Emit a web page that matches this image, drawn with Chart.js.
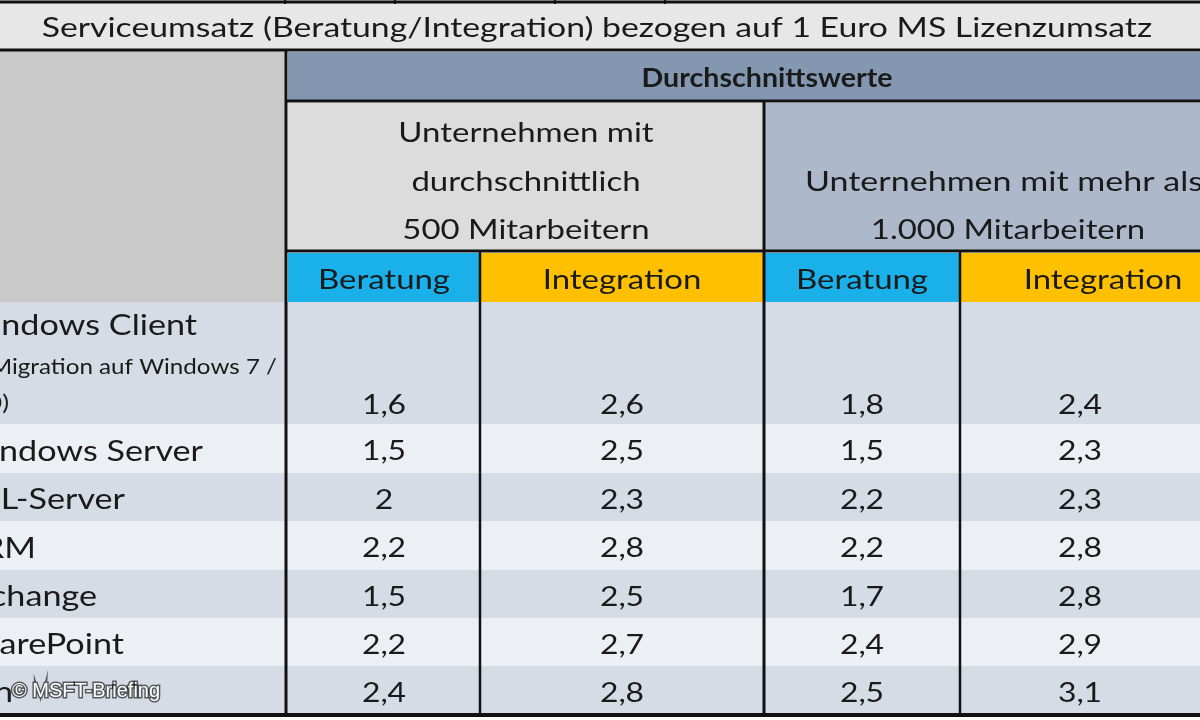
<!DOCTYPE html>
<html>
<head>
<meta charset="utf-8">
<script src="https://cdn.jsdelivr.net/npm/chart.js@4.4.0/dist/chart.umd.min.js"></script>
<style>
  body { margin: 0; background: #ffffff; overflow: hidden; }
  canvas { display: block; }
</style>
</head>
<body>
<canvas id="tbl" width="1200" height="720"></canvas>
<script>
// table content
var title = "Serviceumsatz (Beratung/Integration) bezogen auf 1 Euro MS Lizenzumsatz";
var products = ["Windows Client", "Windows Server", "SQL-Server", "CRM", "Exchange", "SharePoint", "Navision"];
var beratung500 = ["1,6", "1,5", "2", "2,2", "1,5", "2,2", "2,4"];
var integration500 = ["2,6", "2,5", "2,3", "2,8", "2,5", "2,7", "2,8"];
var beratung1000 = ["1,8", "1,5", "2,2", "2,2", "1,7", "2,4", "2,5"];
var integration1000 = ["2,4", "2,3", "2,3", "2,8", "2,8", "2,9", "3,1"];

// layout in table units (scale 0..1200 x 0..720)
var colEdges = [288, 480, 764, 960, 1200];
var rowEdges = [302, 424, 473, 521, 570, 618, 666, 714];
var labelEnds = [197, 203, 125, 36, 97, 124, 13];
var rowColors = ["#d6dce5", "#eceff3", "#d6dce5", "#eceff3", "#d6dce5", "#eceff3", "#d6dce5"];
var FONT = "Lato, 'Open Sans', sans-serif";
var STRETCH = 1.22;

var tablePlugin = {
    id: "tablePlugin",
    beforeDraw: function (chart) {
        var ctx = chart.ctx;
        var xs = chart.scales.x, ys = chart.scales.y;
        function X(v) { return xs.getPixelForValue(v); }
        function Y(v) { return ys.getPixelForValue(v); }
        function rect(x0, y0, x1, y1, col) {
            ctx.fillStyle = col;
            ctx.fillRect(X(x0), Y(y0), X(x1) - X(x0), Y(y1) - Y(y0));
        }
        function line(x0, y0, x1, y1, w) {
            ctx.strokeStyle = "#111";
            ctx.lineWidth = w;
            ctx.beginPath();
            ctx.moveTo(X(x0), Y(y0));
            ctx.lineTo(X(x1), Y(y1));
            ctx.stroke();
        }
        function text(s, x, y, size, align, weight, sx) {
            ctx.save();
            ctx.font = (weight || "normal") + " " + size + "px " + FONT;
            ctx.fillStyle = "#1a1a1a";
            ctx.textAlign = align;
            ctx.textBaseline = "middle";
            ctx.translate(X(x), Y(y));
            ctx.scale(sx || STRETCH, 1);
            ctx.fillText(s, 0, 0);
            ctx.restore();
        }

        ctx.save();
        // backgrounds
        rect(0, 0, 1200, 50, "#e7e7e7");
        rect(0, 50, 286, 302, "#c9c9c9");
        rect(288, 52, 1200, 101, "#8497b0");
        rect(288, 103, 764, 251, "#dcdcdc");
        rect(764, 103, 1200, 251, "#adb9ca");
        rect(288, 253, 480, 302, "#1ab0ea");
        rect(480, 253, 764, 302, "#ffc000");
        rect(764, 253, 960, 302, "#1ab0ea");
        rect(960, 253, 1200, 302, "#ffc000");
        for (var r = 0; r < products.length; r++) {
            rect(0, rowEdges[r], 1200, rowEdges[r + 1], rowColors[r]);
        }

        // grid lines
        line(0, 2, 1200, 2, 3);
        [285, 395, 555, 665].forEach(function (x) { line(x, 0, x, 4, 2); });
        line(0, 50, 1200, 50, 3);
        line(286, 101, 1200, 101, 3);
        line(286, 251, 1200, 251, 3);
        line(0, 715, 1200, 715, 4);
        line(286, 50, 286, 715, 3);
        line(764, 101, 764, 715, 3);
        line(480, 251, 480, 715, 2.5);
        line(960, 251, 960, 715, 2.5);

        // header text
        text(title, 597, 28, 27, "center", "normal", 1.25);
        text("Durchschnittswerte", 767, 79, 26, "center", "bold", 1.1);
        text("Unternehmen mit", 526, 133, 27, "center");
        text("durchschnittlich", 526, 182, 27, "center");
        text("500 Mitarbeitern", 526, 230, 27, "center");
        text("Unternehmen mit mehr als", 805, 182, 27, "left", "normal", 1.26);
        text("1.000 Mitarbeitern", 1008, 230, 27, "center");
        text("Beratung", 384, 280, 27, "center");
        text("Integration", 622, 280, 27, "center");
        text("Beratung", 862, 280, 27, "center");
        text("Integration", 1103, 280, 27, "center");

        // rows
        var cols = [beratung500, integration500, beratung1000, integration1000];
        for (var i = 0; i < products.length; i++) {
            var yMid = (rowEdges[i] + rowEdges[i + 1]) / 2;
            var yVal = i === 0 ? 405 : yMid + 3;
            var yLab = i === 0 ? 326 : yMid + 3;
            text(products[i], labelEnds[i], yLab, 28, "right");
            for (var c = 0; c < cols.length; c++) {
                text(cols[c][i], (colEdges[c] + colEdges[c + 1]) / 2, yVal, 27, "center", "normal", 1.18);
            }
        }
        text("(Migration auf Windows 7 /", 277, 367, 21, "right", "normal", 1.15);
        text("Office 2010)", 9, 403, 21, "right");

        // watermark
        ctx.font = "20px 'Liberation Sans', Arial, sans-serif";
        ctx.textAlign = "left";
        ctx.lineWidth = 3;
        ctx.strokeStyle = "rgba(0,0,0,0.6)";
        ctx.strokeText("\u00a9 MSFT-Briefing", X(12), Y(697));
        ctx.fillStyle = "#ffffff";
        ctx.fillText("\u00a9 MSFT-Briefing", X(12), Y(697));
        ctx.restore();
    }
};

new Chart(document.getElementById("tbl").getContext("2d"), {
    type: "scatter",
    data: { datasets: [{ data: [] }] },
    options: {
        responsive: false,
        animation: false,
        layout: { padding: 0 },
        plugins: { legend: { display: false }, tooltip: { enabled: false } },
        scales: {
            x: { type: "linear", min: 0, max: 1200, display: false },
            y: { type: "linear", min: 0, max: 720, reverse: true, display: false }
        }
    },
    plugins: [tablePlugin]
});
</script>
</body>
</html>
